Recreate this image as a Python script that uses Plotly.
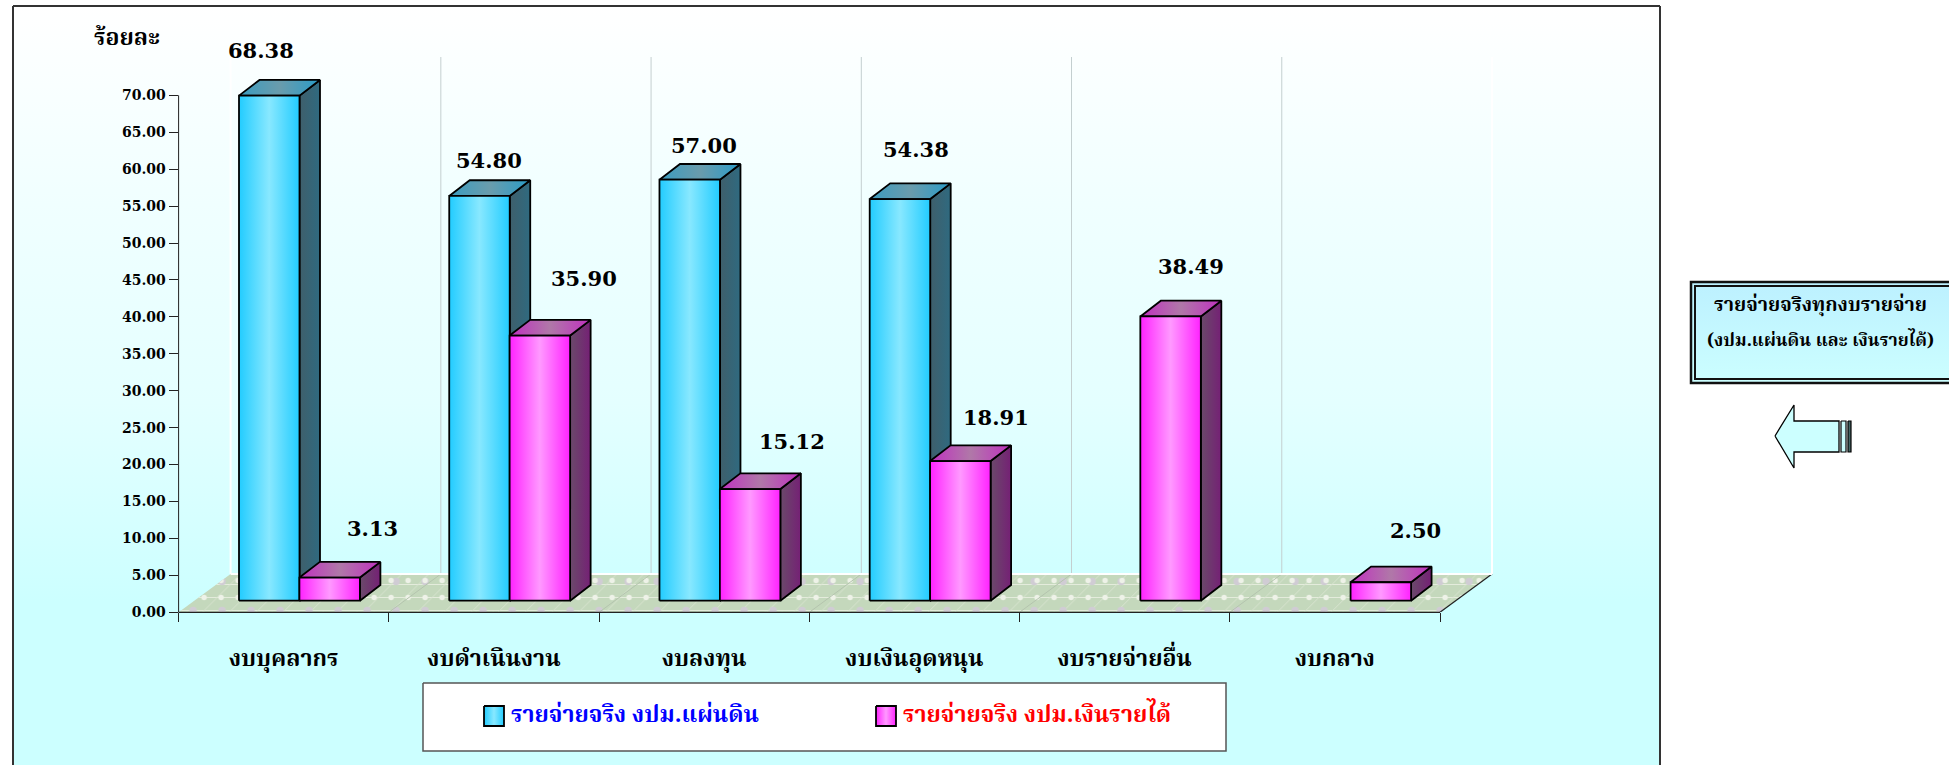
import plotly.graph_objects as go

categories = ["งบบุคลากร", "งบดำเนินงาน", "งบลงทุน", "งบเงินอุดหนุน", "งบรายจ่ายอื่น", "งบกลาง"]
land_budget = [68.38, 54.80, 57.00, 54.38, None, None]
income_budget = [3.13, 35.90, 15.12, 18.91, 38.49, 2.50]
y_ticks = [0, 5, 10, 15, 20, 25, 30, 35, 40, 45, 50, 55, 60, 65, 70]
legend_names = ["รายจ่ายจริง งปม.แผ่นดิน", "รายจ่ายจริง งปม.เงินรายได้"]
y_title = "ร้อยละ"
note_lines = ["รายจ่ายจริงทุกงบรายจ่าย", "(งปม.แผ่นดิน และ เงินรายได้)"]

W, H = 1949, 765
AX_L, AX_R, AX_T, AX_B = 178.6, 1440.0, 95.3, 612.3
THAI = "Noto Serif Thai, Noto Sans Thai, Noto Sans, Loma, sans-serif"
NUM = "DejaVu Serif"

PX_X = (AX_R - AX_L) / 6
PX_Y = (AX_B - AX_T) / 70
BAR_W = 60.5 / PX_X
BAR_OFF = 60.4 / PX_X
BASE = 11.6 / PX_Y
DX, DY = 20.5 / PX_X, 15.7 / PX_Y
FLOOR_DX, FLOOR_DY = 52.0 / PX_X, 38.3 / PX_Y
WALL_TOP = (AX_B - 57) / PX_Y
# the data axes run past the last category and past 70 so the 3D depth is not cut off
X_MAX = 6.3
Y_MAX = (AX_B - 45) / PX_Y

fig = go.Figure()


def poly(xs, ys, axes, colors=None, kind="horizontal", solid=None, lw=0, lc="black", pattern=None):
    t = dict(x=list(xs) + [xs[0]], y=list(ys) + [ys[0]], mode="lines", fill="toself",
             line=dict(width=lw, color=lc), hoverinfo="skip", showlegend=False,
             xaxis=axes[0], yaxis=axes[1])
    if colors:
        n = len(colors) - 1
        t["fillgradient"] = dict(type=kind, colorscale=[[i / n, c] for i, c in enumerate(colors)])
    if solid:
        t["fillcolor"] = solid
    if pattern:
        t["fillpattern"] = pattern
    fig.add_trace(go.Scatter(**t))


def line(xs, ys, axes, color, width=1):
    fig.add_trace(go.Scatter(x=xs, y=ys, mode="lines", line=dict(color=color, width=width),
                             hoverinfo="skip", showlegend=False, xaxis=axes[0], yaxis=axes[1]))


PIX = ("x", "y")
DAT = ("x2", "y2")

# page panels
poly([13, 1660, 1660, 13], [6, 6, 800, 800], PIX,
     colors=["#ccffff", "#ccffff", "#e4ffff", "#f0ffff", "#ffffff"], kind="vertical")
poly([1690, 1960, 1960, 1690], [281, 281, 384, 384], PIX,
     colors=["#ccffff", "#bcf0ff"], kind="vertical")
poly([423, 1226, 1226, 423], [683, 683, 751, 751], PIX, solid="#ffffff", lw=1.5, lc="#555555")

# arrow
poly([1775, 1794, 1794, 1839, 1839, 1794, 1794], [436, 405, 421, 421, 452, 452, 468], PIX,
     solid="#ccffff", lw=1.3)
poly([1841, 1846, 1846, 1841], [421, 421, 452, 452], PIX, solid="#ccffff", lw=1.2)
poly([1848, 1851, 1851, 1848], [421, 421, 452, 452], PIX, solid="#446666", lw=1.2)

# legend keys
poly([484, 504, 504, 484], [706, 706, 726, 726], PIX,
     colors=["#22ccff", "#88e8ff", "#22ccff"], lw=1.8)
poly([876, 896, 896, 876], [706, 706, 726, 726], PIX,
     colors=["#ff22ff", "#ff99ff", "#ff22ff"], lw=1.8)

# walls
line([FLOOR_DX, FLOOR_DX], [FLOOR_DY, WALL_TOP], DAT, "#ffffff", 2)
line([6 + FLOOR_DX, 6 + FLOOR_DX], [FLOOR_DY, WALL_TOP], DAT, "#ffffff", 2)
for i in range(1, 6):
    line([i + FLOOR_DX, i + FLOOR_DX], [FLOOR_DY, WALL_TOP], DAT, "#c4cfd0", 1)

# floor, layered patterns for the speckled texture
FLOOR_X = [0, 6, 6 + FLOOR_DX, FLOOR_DX]
FLOOR_Y = [0, 0, FLOOR_DY, FLOOR_DY]
poly(FLOOR_X, FLOOR_Y, DAT, solid="#c4d8bc")
CLEAR = "rgba(0,0,0,0)"
for shape, fg, size, sol in (("-", "#e4ecdc", 13, 0.08), ("/", "#d8e4d0", 19, 0.05),
                             (".", "#d0ccd4", 29, 0.05), (".", "#eef2e8", 17, 0.08)):
    poly(FLOOR_X, FLOOR_Y, DAT, solid=CLEAR,
         pattern=dict(shape=shape, fgcolor=fg, bgcolor=CLEAR, size=size, solidity=sol, fillmode="replace"))
for i in range(1, 6):
    line([i, i + FLOOR_DX], [0, FLOOR_DY], DAT, "#b4c4ae", 1)
line([6, 6 + FLOOR_DX], [0, FLOOR_DY], DAT, "#222222", 1.2)
line([FLOOR_DX, 6 + FLOOR_DX], [FLOOR_DY, FLOOR_DY], DAT, "#ffffff", 2)

BLUE = dict(front=["#22ccff", "#88e8ff", "#22ccff"],
            side=["#3f5f6b", "#2f6a80"],
            top=["#3a9cc0", "#6a9cac", "#2a9cc8"])
PINK = dict(front=["#ff22ff", "#ff99ff", "#ff22ff"],
            side=["#6a4a6a", "#752075"],
            top=["#c030c0", "#b078a8", "#c030c0"])


def bar(x0, v, pal):
    x1 = x0 + BAR_W
    top = BASE + v
    poly([x1, x1 + DX, x1 + DX, x1], [BASE, BASE + DY, top + DY, top], DAT, colors=pal["side"], lw=1.8)
    poly([x0, x1, x1 + DX, x0 + DX], [top, top, top + DY, top + DY], DAT, colors=pal["top"], lw=1.8)
    poly([x0, x1, x1, x0], [BASE, BASE, top, top], DAT, colors=pal["front"], lw=1.8)


for i in range(6):
    if land_budget[i] is not None:
        bar(i + 60.4 / PX_X, land_budget[i], BLUE)
    if income_budget[i] is not None:
        bar(i + 60.4 / PX_X + BAR_OFF, income_budget[i], PINK)

# value label placement in page pixels
land_label_pos = [(261, 50), (489, 160), (704, 145), (916, 149), None, None]
income_label_pos = [(372, 528), (584, 278), (792, 441), (996, 417), (1191, 266), (1415, 530)]
annotations = []


def text(x, y, s, size, color="black", family=THAI, weight=700):
    annotations.append(dict(x=x, y=y, xref="x", yref="y", text=s, showarrow=False, xanchor="center",
                            yanchor="middle", font=dict(family=family, size=size, color=color, weight=weight)))


for vals, pos in ((land_budget, land_label_pos), (income_budget, income_label_pos)):
    for v, p in zip(vals, pos):
        if v is not None:
            text(p[0], p[1], f"{v:.2f}", 21, family=NUM)

text(127, 39, y_title, 23)
text(635, 716, legend_names[0], 23, color="#0000ff")
text(1037, 716, legend_names[1], 23, color="#ff0000")
text(1820, 305, note_lines[0], 19.6)
text(1820, 341, note_lines[1], 17.6)

frame = "#333333"
AXC = "#222222"
shapes = [
    dict(type="line", xref="x", yref="y", x0=13, x1=13, y0=6, y1=765, line=dict(color=frame, width=2)),
    dict(type="line", xref="x", yref="y", x0=13, x1=1660, y0=6, y1=6, line=dict(color=frame, width=2)),
    dict(type="line", xref="x", yref="y", x0=1660, x1=1660, y0=6, y1=765, line=dict(color=frame, width=2)),
    dict(type="rect", xref="x", yref="y", x0=1691, x1=1960, y0=282, y1=383, line=dict(color="#111111", width=2.5)),
    dict(type="rect", xref="x", yref="y", x0=1695, x1=1960, y0=286, y1=379, line=dict(color="#111111", width=2)),
    dict(type="line", xref="x", yref="y", x0=AX_L, x1=AX_L, y0=AX_T, y1=AX_B, line=dict(color=AXC, width=1)),
    dict(type="line", xref="x", yref="y", x0=AX_L, x1=AX_R, y0=AX_B, y1=AX_B, line=dict(color=AXC, width=1.2)),
]

fig.update_layout(
    width=W, height=H, margin=dict(l=0, r=0, t=0, b=0, pad=0), autosize=False,
    paper_bgcolor="#ffffff", plot_bgcolor="rgba(0,0,0,0)", showlegend=False,
    annotations=annotations, shapes=shapes,
    xaxis=dict(domain=[0, 1], range=[0, W], visible=False, fixedrange=True, automargin=False),
    yaxis=dict(domain=[0, 1], range=[H, 0], visible=False, fixedrange=True, automargin=False),
    xaxis2=dict(domain=[AX_L / W, (AX_L + X_MAX * PX_X) / W], range=[0, X_MAX], anchor="y2", showgrid=False,
                zeroline=False, automargin=False, showline=False, fixedrange=True,
                tickmode="array", tickvals=[i + 0.5 for i in range(6)], ticktext=categories, ticks="",
                ticklabelstandoff=30,
                tickfont=dict(family=THAI, size=23, color="black", weight=700),
                minor=dict(tickmode="array", tickvals=list(range(7)), ticks="outside", ticklen=9,
                           tickcolor=AXC, tickwidth=1, showgrid=False)),
    yaxis2=dict(domain=[(H - AX_B) / H, (H - 45) / H], range=[0, Y_MAX], anchor="x2", showgrid=False,
                zeroline=False, automargin=False, showline=False, fixedrange=True,
                tickmode="array", tickvals=y_ticks, ticktext=[f"{t:.2f}" for t in y_ticks], ticks="outside",
                ticklen=9, tickcolor=AXC, tickwidth=1,
                tickfont=dict(family=NUM, size=14, color="black", weight=700)),
)

fig.write_html("out.html", config={"displayModeBar": False},
               post_script="document.body.style.margin='0';document.body.style.overflow='hidden';")
